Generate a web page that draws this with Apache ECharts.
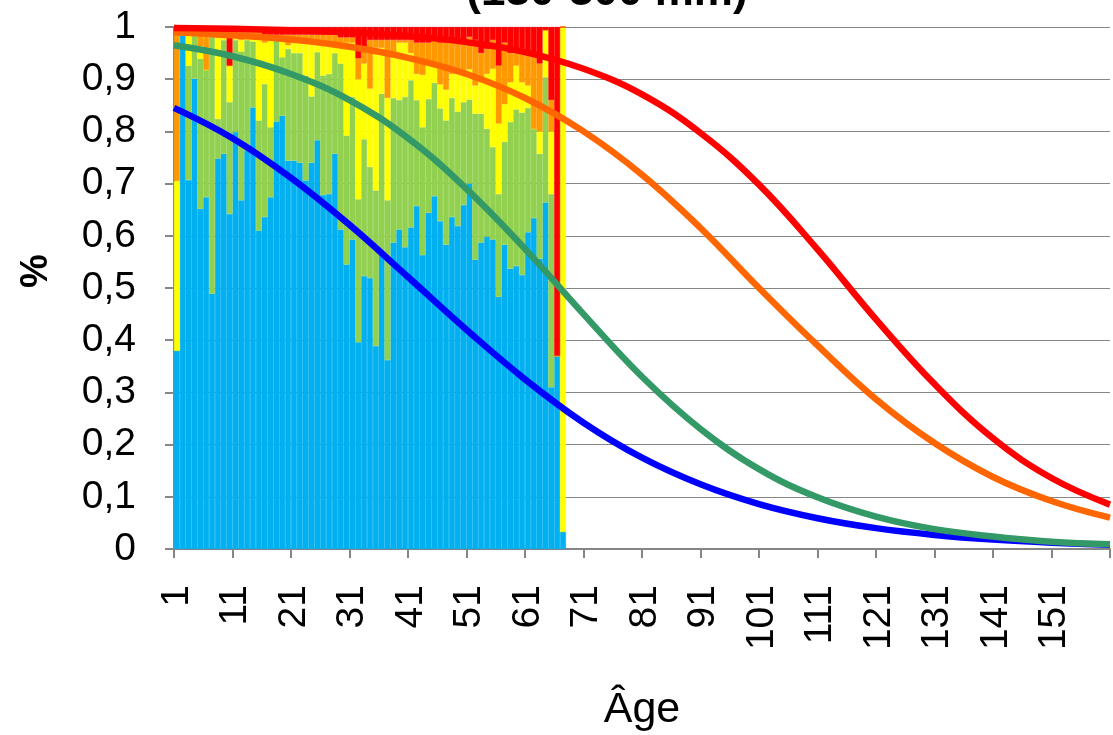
<!DOCTYPE html>
<html>
<head>
<meta charset="utf-8">
<script src="https://cdn.jsdelivr.net/npm/echarts@6/dist/echarts.min.js"></script>
<style>
  html, body { margin: 0; padding: 0; background: #ffffff; }
  #chart { width: 1113px; height: 735px; }
</style>
</head>
<body>
<div id="chart"></div>
<script>
// ---- categories (ages on the x axis) ----
const ages = [];
for (let a = 1; a <= 160; a++) ages.push(String(a));

// ---- stacked shares per age (ages 1..67) ----
const blueShare = [
  0.38, 0.985, 0.707, 0.901, 0.652, 0.674, 0.489, 0.748, 0.757, 0.642,
  0.799, 0.668, 0.764, 0.846, 0.61, 0.636, 0.674, 0.819, 0.83, 0.744,
  0.744, 0.74, 0.706, 0.74, 0.783, 0.678, 0.68, 0.757, 0.612, 0.545,
  0.593, 0.396, 0.523, 0.519, 0.389, 0.57, 0.362, 0.587, 0.612, 0.578,
  0.616, 0.657, 0.563, 0.644, 0.676, 0.628, 0.583, 0.636, 0.619, 0.659,
  0.70, 0.554, 0.587, 0.598, 0.593, 0.483, 0.583, 0.537, 0.542, 0.525,
  0.607, 0.634, 0.556, 0.664, 0.31, 0.37, 0.033
];
const greenShare = [
  0, 0, 0.219, 0.084, 0.287, 0.244, 0.496, 0.076, 0.218, 0.214,
  0.176, 0.285, 0.211, 0.126, 0.211, 0.255, 0.134, 0.155, 0.112, 0.214,
  0.206, 0.21, 0.201, 0.127, 0.169, 0.229, 0.23, 0.193, 0.318, 0.247,
  0.273, 0.274, 0.262, 0.213, 0.298, 0.302, 0.306, 0.277, 0.248, 0.288,
  0.282, 0.203, 0.245, 0.218, 0.217, 0.216, 0.238, 0.228, 0.219, 0.197,
  0.161, 0.28, 0.247, 0.207, 0.177, 0.197, 0.197, 0.281, 0.30, 0.311,
  0.238, 0.171, 0.201, 0.24, 0.37, 0, 0
];
const yellowShare = [
  0.325, 0, 0.059, 0, 0.024, 0, 0, 0.161, 0.01, 0.07,
  0.01, 0.022, 0.01, 0.013, 0.164, 0.079, 0.167, 0, 0.033, 0.007,
  0.02, 0.025, 0.068, 0.108, 0.023, 0.063, 0.06, 0.02, 0.04, 0.178,
  0.104, 0.23, 0.145, 0.15, 0.273, 0.088, 0.196, 0.081, 0.11, 0.104,
  0.052, 0.05, 0.10, 0.068, 0.037, 0.046, 0.059, 0.046, 0.072, 0.054,
  0.058, 0.054, 0.066, 0.105, 0.15, 0.135, 0.072, 0.076, 0.084, 0.058,
  0.043, 0, 0.043, 0.09, 0.12, 0, 0.967
];
const orangeShare = [
  0.285, 0.005, 0.005, 0.005, 0.022, 0.067, 0.005, 0.005, 0.005, 0,
  0.005, 0.015, 0.005, 0.005, 0.005, 0.015, 0.01, 0.011, 0.01, 0.02,
  0.015, 0.01, 0.01, 0.01, 0.01, 0.015, 0.015, 0.015, 0.01, 0.01,
  0.01, 0.04, 0.03, 0.093, 0.015, 0.015, 0.111, 0.03, 0.005, 0.005,
  0.025, 0.06, 0.062, 0.04, 0.045, 0.08, 0.09, 0.06, 0.06, 0.06,
  0.062, 0.087, 0.05, 0.048, 0.055, 0.111, 0.118, 0.056, 0.024, 0.064,
  0.058, 0.145, 0.13, 0, 0.06, 0, 0
];
const redShare = [
  0.01, 0.01, 0.01, 0.01, 0.015, 0.015, 0.01, 0.01, 0.01, 0.074,
  0.01, 0.01, 0.01, 0.01, 0.01, 0.015, 0.015, 0.015, 0.015, 0.015,
  0.015, 0.015, 0.015, 0.015, 0.015, 0.015, 0.015, 0.015, 0.02, 0.02,
  0.02, 0.06, 0.04, 0.025, 0.025, 0.025, 0.025, 0.025, 0.025, 0.025,
  0.025, 0.03, 0.03, 0.03, 0.025, 0.03, 0.03, 0.03, 0.03, 0.03,
  0.019, 0.025, 0.05, 0.042, 0.025, 0.074, 0.03, 0.05, 0.05, 0.042,
  0.054, 0.05, 0.07, 0.006, 0.14, 0.63, 0
];

// ---- fitted curves, read at every 10 ages (age position, value) ----
const curveAges = [0.5, 10.5, 20.5, 30.5, 40.5, 50.5, 60.5, 70.5, 80.5, 90.5,
                   100.5, 110.5, 120.5, 130.5, 140.5, 150.5, 160.5];
const curveBlue   = [0.845, 0.787, 0.711, 0.621, 0.521, 0.42, 0.325, 0.242, 0.175, 0.124,
                     0.086, 0.059, 0.040, 0.027, 0.018, 0.012, 0.008];
const curveGreen  = [0.965, 0.944, 0.91, 0.86, 0.787, 0.69, 0.575, 0.45, 0.33, 0.23,
                     0.153, 0.099, 0.062, 0.038, 0.024, 0.014, 0.009];
const curveOrange = [0.99, 0.984, 0.976, 0.962, 0.941, 0.91, 0.864, 0.80, 0.717, 0.615,
                     0.50, 0.39, 0.287, 0.203, 0.138, 0.092, 0.06];
const curveRed    = [0.998, 0.9965, 0.994, 0.99, 0.983, 0.971, 0.952, 0.92, 0.871, 0.797,
                     0.698, 0.574, 0.44, 0.316, 0.212, 0.136, 0.085];

const titleText = '(130-300 mm)';
const xName = 'Âge';
const yName = '%';

const FONT = '"Liberation Sans", Arial, sans-serif';
const chart = echarts.init(document.getElementById('chart'), null, { renderer: 'canvas' });

function pairs(xs, ys) { return xs.map((x, i) => [x, ys[i]]); }
function barSeries(name, data, color) {
  return {
    name, type: 'bar', stack: 'share', data, xAxisIndex: 0, yAxisIndex: 0,
    barCategoryGap: '0%', itemStyle: { color, borderColor: color, borderWidth: 0.5 },
    z: 2, animation: false
  };
}
function lineSeries(name, xs, ys, color) {
  return {
    name, type: 'line', data: pairs(xs, ys), xAxisIndex: 1, yAxisIndex: 0,
    smooth: 0.4, showSymbol: false, symbol: 'none', z: 5,
    lineStyle: { color, width: 6.5 }, itemStyle: { color }, animation: false
  };
}

chart.setOption({
  animation: false,
  backgroundColor: '#ffffff',
  graphic: [{
    type: 'text', x: 607, y: 15, z: 10,
    style: { text: titleText, font: 'bold 44px ' + FONT, fill: '#000', textAlign: 'center', textVerticalAlign: 'bottom' }
  }],
  grid: { left: 174, right: 3, top: 27, bottom: 186, containLabel: false, outerBoundsMode: 'none' },
  xAxis: [{
    type: 'category', data: ages, boundaryGap: true,
    name: xName, nameLocation: 'middle', nameGap: 140,
    nameTextStyle: { fontFamily: FONT, fontSize: 43, color: '#000' },
    axisLine: { show: true, lineStyle: { color: '#868686', width: 2 } },
    axisTick: { show: true, interval: 9, length: 9, lineStyle: { color: '#868686', width: 2 } },
    axisLabel: { interval: 9, rotate: 90, margin: 36, fontFamily: FONT, fontSize: 39, color: '#000' },
    splitLine: { show: false }
  }, {
    type: 'value', min: 0.5, max: 160.5, show: false
  }],
  yAxis: [{
    type: 'value', min: 0, max: 1, interval: 0.1,
    name: yName, nameLocation: 'middle', nameGap: 118, nameRotate: 90,
    nameTextStyle: { fontFamily: FONT, fontSize: 38, fontWeight: 'bold', color: '#000', padding: [0, 0, 0, 34] },
    axisLine: { show: true, lineStyle: { color: '#868686', width: 2 } },
    axisTick: { show: true, length: 9, lineStyle: { color: '#868686', width: 2 } },
    axisLabel: {
      margin: 38, fontFamily: FONT, fontSize: 39, color: '#000',
      formatter: v => (v === 0 ? '0' : v === 1 ? '1' : v.toFixed(1).replace('.', ','))
    },
    splitLine: { show: true, lineStyle: { color: '#868686', width: 1 } }
  }],
  series: [
    barSeries('Bleu', blueShare, '#00B0F0'),
    barSeries('Vert', greenShare, '#92D050'),
    barSeries('Jaune', yellowShare, '#FFFF00'),
    barSeries('Orange', orangeShare, '#FF9900'),
    barSeries('Rouge', redShare, '#FF0000'),
    lineSeries('Courbe bleue', curveAges, curveBlue, '#0000FF'),
    lineSeries('Courbe verte', curveAges, curveGreen, '#339966'),
    lineSeries('Courbe orange', curveAges, curveOrange, '#FF6600'),
    lineSeries('Courbe rouge', curveAges, curveRed, '#FF0000')
  ]
});
</script>
</body>
</html>
